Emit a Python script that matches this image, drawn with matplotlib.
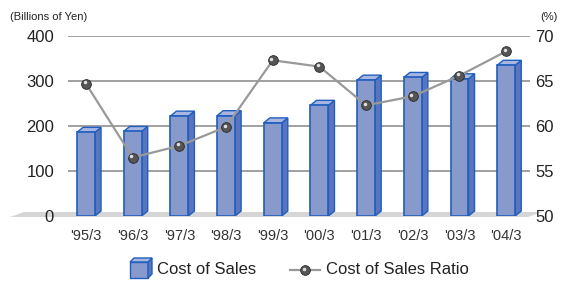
import numpy as np
import matplotlib.pyplot as plt
from matplotlib.patches import Polygon, Rectangle

plt.rcParams['font.family'] = ['Liberation Sans', 'DejaVu Sans']

# данные
years = ["'95/3", "'96/3", "'97/3", "'98/3", "'99/3", "'00/3", "'01/3", "'02/3", "'03/3", "'04/3"]
cost_of_sales = [186, 188, 222, 223, 207, 246, 302, 308, 305, 335]
cost_ratio = [64.7, 56.5, 57.8, 59.9, 67.3, 66.6, 62.3, 63.3, 65.6, 68.3]

face = '#8899cc'
side = '#5b74bb'
top_c = '#a9b6e0'
edge = '#1f5fbf'

fig = plt.figure(figsize=(5.63, 2.81), dpi=100)
ax = fig.add_axes([68/563, 1 - 216/281, (530 - 68)/563, (216 - 36)/281])
ax.set_xlim(-0.385, 9.51)
ax.set_ylim(0, 400)

# пол (серая полоса) - под осями
floor = Polygon([(10/563, 1 - 217/281), (528/563, 1 - 217/281),
                 (542/563, 1 - 212/281), (24/563, 1 - 212/281)],
                closed=True, transform=fig.transFigure, facecolor='#d6d6d6',
                edgecolor='none', zorder=-1)
fig.patches.append(floor)

for y in [100, 200, 300, 400]:
    ax.axhline(y, color='#a0a0a0', lw=1.4, zorder=1)

# 3D-столбцы
w = 0.385
dx, dy = 0.13, 11
x = np.arange(len(years))
for xi, v in zip(x, cost_of_sales):
    l, r = xi - w/2, xi + w/2
    ax.add_patch(Polygon([(r, 0), (r + dx, dy), (r + dx, v + dy), (r, v)],
                         facecolor=side, edgecolor=edge, lw=1.0, zorder=2))
    ax.add_patch(Polygon([(l, v), (r, v), (r + dx, v + dy), (l + dx, v + dy)],
                         facecolor=top_c, edgecolor=edge, lw=1.0, zorder=2))
    ax.add_patch(Rectangle((l, 0), w, v, facecolor=face, edgecolor=edge,
                           lw=1.2, zorder=3))

ax.set_xticks(x)
ax.set_xticklabels(years, fontsize=10.5, color='#333333')
ax.set_yticks([0, 100, 200, 300, 400])
ax.tick_params(axis='y', labelsize=12, colors='#222222', length=0, pad=10)
ax.tick_params(axis='x', length=0, pad=9)
for s in ax.spines.values():
    s.set_visible(False)
ax.patch.set_alpha(0)

ax2 = ax.twinx()
ax2.set_ylim(50, 70)
ax2.set_yticks([50, 55, 60, 65, 70])
ax2.tick_params(axis='y', labelsize=12, colors='#222222', length=0, pad=4)
for s in ax2.spines.values():
    s.set_visible(False)
ax2.plot(x, cost_ratio, color='#999999', lw=1.6, zorder=4)
ax2.plot(x, cost_ratio, 'o', ms=7, mfc='#555555', mec='#2a2a2a', mew=0.6, zorder=5)
ax2.plot(x - 0.03, np.array(cost_ratio) + 0.15, 'o', ms=2.5, mfc='#e0e0e0',
         mec='none', zorder=6)

fig.text(10/563, 1 - 17/281, '(Billions of Yen)', fontsize=8, color='#222222', va='center')
fig.text(558/563, 1 - 17/281, '(%)', fontsize=8, color='#222222', va='center', ha='right')

# легенда
lx, ly = 130/563, 1 - 270/281
fig.patches.append(Rectangle((lx, ly - 8/281), 18/563, 16/281, transform=fig.transFigure,
                             facecolor=face, edgecolor=edge, lw=1.0))
fig.patches.append(Polygon([(lx + 18/563, ly - 8/281), (lx + 22/563, ly - 4/281),
                            (lx + 22/563, ly + 12/281), (lx + 18/563, ly + 8/281)],
                           closed=True, transform=fig.transFigure, facecolor=side,
                           edgecolor=edge, lw=1.0))
fig.patches.append(Polygon([(lx, ly + 8/281), (lx + 18/563, ly + 8/281),
                            (lx + 22/563, ly + 12/281), (lx + 4/563, ly + 12/281)],
                           closed=True, transform=fig.transFigure, facecolor=top_c,
                           edgecolor=edge, lw=1.0))
fig.text(157/563, ly, 'Cost of Sales', fontsize=12, color='#222222', va='center')
fig.lines.append(plt.Line2D([290/563, 320/563], [ly, ly], transform=fig.transFigure,
                            color='#999999', lw=1.6))
fig.lines.append(plt.Line2D([305/563], [ly], transform=fig.transFigure, marker='o',
                            ms=7, mfc='#555555', mec='#2a2a2a', mew=0.6))
fig.lines.append(plt.Line2D([304/563], [ly + 1/281], transform=fig.transFigure, marker='o',
                            ms=2.5, mfc='#e0e0e0', mec='none'))
fig.text(326/563, ly, 'Cost of Sales Ratio', fontsize=12, color='#222222', va='center')

fig.savefig('out.png', dpi=100)
